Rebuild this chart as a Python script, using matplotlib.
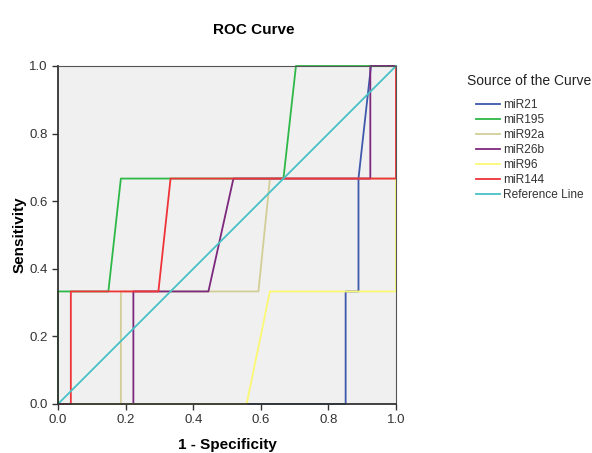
import matplotlib
matplotlib.use('Agg')
from matplotlib import pyplot as plt

plt.rcParams['font.family'] = ['Liberation Sans', 'DejaVu Sans']

# ROC curves (1 - specificity, sensitivity)
mir21_x = [0, 0.851, 0.851, 0.889, 0.889, 0.926, 1.0]
mir21_y = [0, 0, 0.333, 0.333, 0.667, 1.0, 1.0]
mir195_x = [0, 0, 0.149, 0.186, 0.667, 0.704, 1.0]
mir195_y = [0, 0.333, 0.333, 0.667, 0.667, 1.0, 1.0]
mir92a_x = [0, 0.186, 0.186, 0.593, 0.627, 1.0, 1.0]
mir92a_y = [0, 0, 0.333, 0.333, 0.667, 0.667, 1.0]
mir26b_x = [0, 0.223, 0.223, 0.445, 0.519, 0.924, 0.924, 1.0]
mir26b_y = [0, 0, 0.333, 0.333, 0.667, 0.667, 1.0, 1.0]
mir96_x = [0, 0.558, 0.627, 1.0, 1.0]
mir96_y = [0, 0, 0.333, 0.333, 1.0]
mir144_x = [0, 0.038, 0.038, 0.297, 0.333, 1.0, 1.0]
mir144_y = [0, 0, 0.333, 0.333, 0.667, 0.667, 1.0]
ref_x = [0, 1]
ref_y = [0, 1]

series = [
    ('miR21', mir21_x, mir21_y, '#3E58AC'),
    ('miR195', mir195_x, mir195_y, '#2EB848'),
    ('miR92a', mir92a_x, mir92a_y, '#D3CE97'),
    ('miR26b', mir26b_x, mir26b_y, '#7C287D'),
    ('miR96', mir96_x, mir96_y, '#FBF873'),
    ('miR144', mir144_x, mir144_y, '#EF3338'),
    ('Reference Line', ref_x, ref_y, '#48C2C5'),
]

fig = plt.figure(figsize=(5.92, 4.53), dpi=100)
ax = fig.add_axes([58/592, 1 - 404/453, 338/592, 338/453])
ax.set_facecolor('#F0F0F0')

handles = []
for name, xs, ys, c in series:
    h, = ax.plot(xs, ys, color=c, lw=1.3, label=name, clip_on=False)
    handles.append(h)

ax.set_xlim(0, 1)
ax.set_ylim(0, 1)
ticks = [0.0, 0.2, 0.4, 0.6, 0.8, 1.0]
ax.set_xticks(ticks)
ax.set_yticks(ticks)
ax.set_xticklabels(['%.1f' % t for t in ticks])
ax.set_yticklabels(['%.1f' % t for t in ticks])
ax.tick_params(direction='out', length=4, width=1, colors='#333333', labelsize=9.5, labelcolor='#333333')
for s in ['left', 'bottom']:
    ax.spines[s].set_color('#333333')
    ax.spines[s].set_linewidth(1.3)
for s in ['top', 'right']:
    ax.spines[s].set_color('#555555')
    ax.spines[s].set_linewidth(0.8)

ax.set_xlabel('1 - Specificity', fontsize=11, fontweight='bold', labelpad=8)
ax.set_ylabel('Sensitivity', fontsize=11, fontweight='bold', labelpad=2)
fig.text(254/592, 1 - 30/453, 'ROC Curve', fontsize=11, fontweight='bold', ha='center', va='center')

fig.text(467/592, 1 - 81/453, 'Source of the Curve', fontsize=10, ha='left', va='center', color='#222222')
leg = fig.legend(handles=handles, loc='upper left', bbox_to_anchor=(476/592, 1 - 99/453),
                 frameon=False, fontsize=8.6, handlelength=2.0, handletextpad=0.25,
                 labelspacing=0.25, borderaxespad=0, borderpad=0)
for t in leg.get_texts():
    t.set_color('#333333')

fig.savefig('out.png', dpi=100)
